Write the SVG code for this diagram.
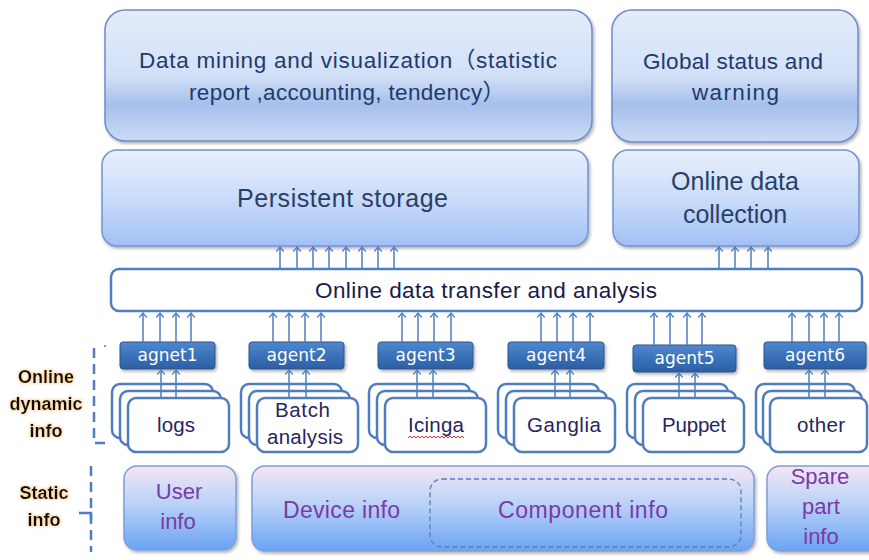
<svg xmlns="http://www.w3.org/2000/svg" width="869" height="560" viewBox="0 0 869 560">
<defs>
  <linearGradient id="gTop" x1="0" y1="0" x2="0" y2="1">
    <stop offset="0" stop-color="#E4ECFA"/>
    <stop offset="0.5" stop-color="#D2E0F7"/>
    <stop offset="0.72" stop-color="#A6C0EB"/>
    <stop offset="0.86" stop-color="#B8CDF1"/>
    <stop offset="1" stop-color="#CCDBF6"/>
  </linearGradient>
  <linearGradient id="gMid" x1="0" y1="0" x2="0" y2="1">
    <stop offset="0" stop-color="#E8EFFD"/>
    <stop offset="0.5" stop-color="#CADCFA"/>
    <stop offset="1" stop-color="#A2C0F5"/>
  </linearGradient>
  <linearGradient id="gStatic" x1="0" y1="0" x2="0" y2="1">
    <stop offset="0" stop-color="#F4E6F5"/>
    <stop offset="0.45" stop-color="#BAD2F7"/>
    <stop offset="1" stop-color="#6AA3F4"/>
  </linearGradient>
  <linearGradient id="gAgent" x1="0" y1="0" x2="0" y2="1">
    <stop offset="0" stop-color="#5288CC"/>
    <stop offset="0.5" stop-color="#3A72BA"/>
    <stop offset="1" stop-color="#2D5FA3"/>
  </linearGradient>
  <filter id="sh" x="-10%" y="-10%" width="120%" height="130%">
    <feDropShadow dx="1.5" dy="2" stdDeviation="1.8" flood-color="#000" flood-opacity="0.3"/>
  </filter>
  <filter id="glow" x="-20%" y="-30%" width="140%" height="160%">
    <feMorphology in="SourceAlpha" operator="dilate" radius="0.8" result="d"/>
    <feGaussianBlur in="d" stdDeviation="0.9" result="b"/>
    <feFlood flood-color="#F5B461" flood-opacity="0.5"/>
    <feComposite in2="b" operator="in" result="g"/>
    <feMerge><feMergeNode in="g"/><feMergeNode in="SourceGraphic"/></feMerge>
  </filter>
  <marker id="ah" viewBox="0 0 6 10" refX="5.5" refY="5" markerWidth="6" markerHeight="9" orient="auto" markerUnits="userSpaceOnUse">
    <path d="M0.5,0.8 L5.5,5 L0.5,9.2" fill="none" stroke="#4F7DBE" stroke-width="1.4"/>
  </marker>
</defs>
<style>
  text { font-family: "Liberation Sans", "Noto Sans CJK SC", sans-serif; }
  .big { fill: url(#gTop); stroke: #6A8DC8; stroke-width: 1.5; filter: url(#sh); }
  .mid { fill: url(#gMid); stroke: #7095D0; stroke-width: 1.5; filter: url(#sh); }
  .stat { fill: url(#gStatic); stroke: #7C9FD6; stroke-width: 1.5; filter: url(#sh); }
  .agent { fill: url(#gAgent); stroke: #2B5590; stroke-width: 1; filter: url(#sh); }
  .doc { fill: #fff; stroke: #4F7DBE; stroke-width: 2.5; }
  .bar { fill: #fff; stroke: #4F7DBE; stroke-width: 2.5; }
  .t1 { fill: #1F3A6E; font-size: 22.5px; }
  .t2 { fill: #2A3F66; font-size: 25px; }
  .ta { fill: #fff; font-size: 17px; font-family: "DejaVu Sans", sans-serif; }
  .td { fill: #262660; font-size: 20.5px; }
  .tp { fill: #7B3AA6; font-size: 22px; }
  .tp2 { fill: #7B3AA6; font-size: 23px; }
  .lab { fill: #111; font-size: 18px; font-weight: bold; filter: url(#glow); }
  .dash { stroke: #4F7DBE; stroke-width: 2.5; fill: none; stroke-dasharray: 10 6; }
  #connectors line { stroke: #4F7DBE; stroke-width: 1.5; marker-end: url(#ah); }
</style>

<!-- Top boxes -->
<g id="data-mining">
  <rect class="big" x="105" y="10" width="487" height="131" rx="20"/>
  <text class="t1" x="139" y="68" textLength="418">Data mining and visualization（statistic</text>
  <text class="t1" x="189" y="100" textLength="316">report ,accounting, tendency）</text>
</g>
<g id="global-status">
  <rect class="big" x="612" y="10" width="246" height="132" rx="20"/>
  <text class="t1" x="643" y="69" textLength="180">Global status and</text>
  <text class="t1" x="692" y="100" textLength="87">warning</text>
</g>
<g id="persistent-storage">
  <rect class="mid" x="102" y="150" width="486" height="96" rx="15"/>
  <text class="t2" x="237" y="207" textLength="211">Persistent storage</text>
</g>
<g id="online-data-collection">
  <rect class="mid" x="613" y="150" width="246" height="96" rx="15"/>
  <text class="t2" x="735" y="190" text-anchor="middle">Online data</text>
  <text class="t2" x="735" y="223" text-anchor="middle">collection</text>
</g>
<g id="transfer-bar">
  <rect class="bar" x="111" y="269" width="751" height="42" rx="8"/>
  <text x="315" y="298" textLength="342" style="fill:#1A1A4A;font-size:22.5px">Online data transfer and analysis</text>
</g>

<!-- Agents -->
<g id="agent1"><rect class="agent" x="120" y="342" width="95" height="27" rx="3"/><text class="ta" x="167.5" y="361" text-anchor="middle">agnet1</text></g>
<g id="agent2"><rect class="agent" x="249" y="342" width="95" height="27" rx="3"/><text class="ta" x="296.5" y="361" text-anchor="middle">agent2</text></g>
<g id="agent3"><rect class="agent" x="378" y="342" width="95" height="27" rx="3"/><text class="ta" x="425.5" y="361" text-anchor="middle">agent3</text></g>
<g id="agent4"><rect class="agent" x="508" y="342" width="96" height="27" rx="3"/><text class="ta" x="556" y="361" text-anchor="middle">agent4</text></g>
<g id="agent5"><rect class="agent" x="633" y="345" width="103" height="27" rx="3"/><text class="ta" x="684.5" y="364" text-anchor="middle">agent5</text></g>
<g id="agent6"><rect class="agent" x="764" y="342" width="102" height="27" rx="3"/><text class="ta" x="815" y="361" text-anchor="middle">agent6</text></g>

<!-- Source stacks -->
<g id="logs">
  <rect class="doc" x="112" y="384" width="101" height="54" rx="8"/>
  <rect class="doc" x="120" y="391" width="101" height="54" rx="8"/>
  <rect class="doc" x="128" y="398" width="101" height="54" rx="8"/>
  <text class="td" x="157" y="432" textLength="38">logs</text>
</g>
<g id="batch-analysis">
  <rect class="doc" x="241" y="384" width="101" height="54" rx="8"/>
  <rect class="doc" x="249" y="391" width="101" height="54" rx="8"/>
  <rect class="doc" x="257" y="398" width="101" height="54" rx="8"/>
  <text class="td" x="275" y="417" textLength="55">Batch</text>
  <text class="td" x="267" y="444" textLength="76">analysis</text>
</g>
<g id="icinga">
  <rect class="doc" x="369" y="384" width="101" height="54" rx="8"/>
  <rect class="doc" x="377" y="391" width="101" height="54" rx="8"/>
  <rect class="doc" x="385" y="398" width="101" height="54" rx="8"/>
  <text class="td" x="408" y="432" textLength="56">Icinga</text>
  <path d="M408,438 l2,-2 l2,2 l2,-2 l2,2 l2,-2 l2,2 l2,-2 l2,2 l2,-2 l2,2 l2,-2 l2,2 l2,-2 l2,2 l2,-2 l2,2 l2,-2 l2,2 l2,-2 l2,2 l2,-2 l2,2 l2,-2 l2,2 l2,-2 l2,2 l2,-2 l2,2" fill="none" stroke="#E03030" stroke-width="1"/>
</g>
<g id="ganglia">
  <rect class="doc" x="498" y="384" width="101" height="54" rx="8"/>
  <rect class="doc" x="506" y="391" width="101" height="54" rx="8"/>
  <rect class="doc" x="514" y="398" width="101" height="54" rx="8"/>
  <text class="td" x="527" y="432" textLength="74">Ganglia</text>
</g>
<g id="puppet">
  <rect class="doc" x="627" y="384" width="101" height="54" rx="8"/>
  <rect class="doc" x="635" y="391" width="101" height="54" rx="8"/>
  <rect class="doc" x="643" y="398" width="101" height="54" rx="8"/>
  <text class="td" x="662" y="432" textLength="64">Puppet</text>
</g>
<g id="other">
  <rect class="doc" x="756" y="384" width="99" height="54" rx="8"/>
  <rect class="doc" x="763" y="391" width="99" height="54" rx="8"/>
  <rect class="doc" x="770" y="398" width="97" height="54" rx="8"/>
  <text class="td" x="797" y="432" textLength="48">other</text>
</g>

<!-- Static info -->
<g id="user-info">
  <rect class="stat" x="124" y="466" width="112" height="84" rx="13"/>
  <text class="tp" x="179" y="499" text-anchor="middle">User</text>
  <text class="tp" x="178" y="529" text-anchor="middle">info</text>
</g>
<g id="device-info">
  <rect class="stat" x="252" y="466" width="502" height="85" rx="13"/>
  <text class="tp2" x="283" y="518" textLength="117">Device info</text>
</g>
<g id="component-info">
  <rect x="430" y="479" width="311" height="68" rx="12" fill="none" stroke="#5A7FB8" stroke-width="1.3" stroke-dasharray="5 3"/>
  <text class="tp2" x="498" y="518" textLength="170">Component info</text>
</g>
<g id="spare-part-info">
  <rect class="stat" x="767" y="466" width="115" height="85" rx="13"/>
  <text class="tp" x="820" y="484" text-anchor="middle">Spare</text>
  <text class="tp" x="821" y="514" text-anchor="middle">part</text>
  <text class="tp" x="821" y="544" text-anchor="middle">info</text>
</g>

<!-- Left labels and brackets -->
<g id="online-dynamic-info">
  <path class="dash" d="M94,348 L94,443 L106,443"/>
  <line x1="105" y1="345" x2="105" y2="347" stroke="#4F7DBE" stroke-width="1.5"/>
  <text class="lab" x="46" y="383" text-anchor="middle">Online</text>
  <text class="lab" x="46" y="410" text-anchor="middle">dynamic</text>
  <text class="lab" x="46" y="437" text-anchor="middle">info</text>
</g>
<g id="static-info">
  <path class="dash" d="M91,466 L91,552"/>
  <path d="M79,513 L91,513 L91,520" fill="none" stroke="#4F7DBE" stroke-width="2.5"/>
  <text class="lab" x="44" y="499" text-anchor="middle">Static</text>
  <text class="lab" x="44" y="526" text-anchor="middle">info</text>
</g>

<!-- Connectors -->
<g id="connectors">
  <line x1="280" y1="269" x2="280" y2="247"/><line x1="297" y1="269" x2="297" y2="247"/>
  <line x1="313" y1="269" x2="313" y2="247"/><line x1="329" y1="269" x2="329" y2="247"/>
  <line x1="346" y1="269" x2="346" y2="247"/><line x1="362" y1="269" x2="362" y2="247"/>
  <line x1="378" y1="269" x2="378" y2="247"/><line x1="394" y1="269" x2="394" y2="247"/>
  <line x1="719" y1="269" x2="719" y2="247"/><line x1="735" y1="269" x2="735" y2="247"/>
  <line x1="751" y1="269" x2="751" y2="247"/><line x1="768" y1="269" x2="768" y2="247"/>
  <line x1="143" y1="342" x2="143" y2="313"/><line x1="160" y1="342" x2="160" y2="313"/>
  <line x1="176" y1="342" x2="176" y2="313"/><line x1="191" y1="342" x2="191" y2="313"/>
  <line x1="273" y1="342" x2="273" y2="313"/><line x1="289" y1="342" x2="289" y2="313"/>
  <line x1="305" y1="342" x2="305" y2="313"/><line x1="321" y1="342" x2="321" y2="313"/>
  <line x1="402" y1="342" x2="402" y2="313"/><line x1="418" y1="342" x2="418" y2="313"/>
  <line x1="434" y1="342" x2="434" y2="313"/><line x1="451" y1="342" x2="451" y2="313"/>
  <line x1="541" y1="342" x2="541" y2="313"/><line x1="557" y1="342" x2="557" y2="313"/>
  <line x1="573" y1="342" x2="573" y2="313"/><line x1="590" y1="342" x2="590" y2="313"/>
  <line x1="654" y1="345" x2="654" y2="313"/><line x1="670" y1="345" x2="670" y2="313"/>
  <line x1="687" y1="345" x2="687" y2="313"/><line x1="702" y1="345" x2="702" y2="313"/>
  <line x1="792" y1="342" x2="792" y2="313"/><line x1="809" y1="342" x2="809" y2="313"/>
  <line x1="824" y1="342" x2="824" y2="313"/><line x1="839" y1="342" x2="839" y2="313"/>
  <line x1="161" y1="398" x2="161" y2="370"/><line x1="176" y1="398" x2="176" y2="370"/>
  <line x1="289" y1="398" x2="289" y2="370"/><line x1="306" y1="398" x2="306" y2="370"/>
  <line x1="417" y1="398" x2="417" y2="370"/><line x1="433" y1="398" x2="433" y2="370"/>
  <line x1="555" y1="398" x2="555" y2="370"/><line x1="570" y1="398" x2="570" y2="370"/>
  <line x1="679" y1="398" x2="679" y2="373"/><line x1="695" y1="398" x2="695" y2="373"/>
  <line x1="809" y1="398" x2="809" y2="370"/><line x1="825" y1="398" x2="825" y2="370"/>
</g>
</svg>
